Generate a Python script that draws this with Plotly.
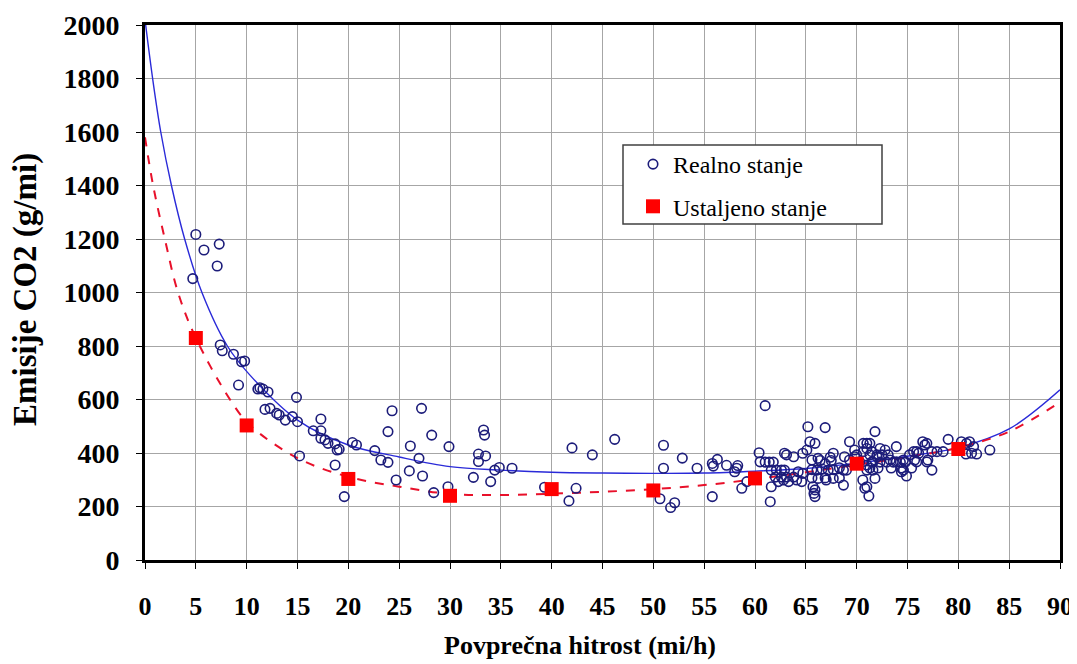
import plotly.graph_objects as go

# ---- Data ----
# Realno stanje (real driving, scatter of measurements)
real_x = [4.7, 5.0, 5.8, 7.3, 7.1, 7.4, 7.6, 8.7, 9.5, 9.8, 9.2,
          11.1, 11.3, 11.6, 12.1, 11.8, 12.3, 12.95, 13.2, 13.8, 14.5, 15.0, 14.9,
          15.2, 16.55, 17.3, 17.3, 17.3, 17.7, 18.0, 18.7, 18.9, 19.1, 18.7, 19.6, 20.4, 20.8,
          22.6, 23.2, 23.9, 23.9, 24.3, 24.7, 26.1, 26.0, 26.95, 27.3, 27.2, 28.2, 28.4, 29.8, 29.9,
          32.3, 32.8, 32.8, 33.5, 33.3, 33.4, 34.0, 34.4, 34.85, 36.1,
          39.3, 42.0, 42.4, 41.7, 44.0, 46.2,
          51.0, 51.0, 50.65, 52.1, 51.7, 52.85, 54.3,
          55.8, 55.9, 56.3, 55.8, 57.2, 58.2, 58.3, 58.0, 58.7, 59.2,
          60.4, 60.5, 61.0, 61.5, 61.0, 61.4, 61.8, 61.6, 62.1, 62.6, 62.9, 62.0, 62.6, 63.1, 63.8,
          61.6, 62.3, 62.9, 63.8, 63.3, 63.1, 64.25, 64.7, 64.6, 64.1, 62.8, 64.7, 65.1, 65.2, 66.9,
          65.4, 65.9, 65.6, 66.2, 66.4, 66.9, 67.4, 67.5,
          65.6, 66.1, 66.6, 67.2, 67.7, 68.3, 68.7,
          65.6, 66.2, 66.9, 67.7, 68.3, 67.0,
          65.7, 65.9, 65.8, 65.9, 68.7,
          69.3, 69.8, 71.0, 71.8, 71.5, 72.0,
          69.8, 70.3, 71.0, 71.5, 69.0, 71.0, 71.6,
          70.6, 71.0, 71.2, 70.8, 71.8,
          67.7, 68.8, 69.3, 70.0, 70.65, 70.65, 71.3, 71.0,
          72.3, 72.8, 71.3, 72.0, 72.5, 73.1,
          71.6, 72.3, 72.95, 73.6, 74.3, 74.8,
          71.3, 72.1, 73.4, 74.4, 75.4,
          74.4, 74.9, 73.9, 73.3, 73.9, 74.6, 75.2, 75.9, 74.6, 75.9, 76.9,
          75.6, 76.1, 76.5, 76.7, 77.4, 75.7, 77.0, 77.4, 76.9, 77.9, 78.5, 79.0,
          80.3, 80.8, 81.1, 81.5, 81.3, 80.75, 81.8, 83.1]
real_y = [1052, 1217, 1159, 1181, 1099, 804, 782, 769, 741, 744, 654,
          639, 644, 639, 628, 563, 567, 548, 542, 523, 536, 517, 608,
          389, 483, 527, 483, 455, 449, 436, 434, 411, 414, 355, 237, 439, 430,
          409, 374, 365, 480, 558, 299, 426, 333, 380, 314, 567, 467, 252, 274, 424,
          309, 396, 368, 389, 486, 467, 293, 336, 346, 343,
          272, 419, 268, 221, 393, 451,
          429, 343, 229, 214, 196, 381, 343,
          361, 351, 376, 237, 354, 343, 353, 330, 268, 293,
          401, 367, 577, 218, 366, 366, 366, 336, 336, 336, 336, 310, 310, 310, 310,
          274, 293, 399, 386, 293, 393, 330, 324, 293, 299, 299, 399, 411, 498, 495,
          442, 436, 374, 380, 372, 360, 384, 372,
          338, 336, 340, 336, 338, 345, 336,
          307, 305, 307, 305, 307, 299,
          274, 262, 249, 237, 280,
          442, 411, 436, 480, 405, 386,
          386, 367, 355, 367, 336, 336, 336,
          299, 274, 239, 268, 305,
          399, 386, 374, 393, 405, 436, 436, 417,
          417, 411, 393, 393, 393, 393,
          366, 366, 366, 366, 366, 366,
          344, 344, 344, 344, 344,
          330, 314, 424, 374, 367, 374, 393, 405, 336, 367, 367,
          405, 399, 442, 430, 405, 374, 374, 336, 436, 405, 405, 451,
          442, 436, 442, 424, 399, 396, 396, 411]

# Ustaljeno stanje (steady state)
steady_x = [5, 10, 20, 30, 40, 50, 60, 70, 80]
steady_y = [830, 503, 303, 240, 265, 260, 305, 360, 415]

# Fitted curves
fit_real_x = [0, 0.75, 1.55, 2.6, 3.9, 5.6, 8.1, 10.3, 15, 20, 25, 30, 35, 40, 45, 50, 55, 60, 65, 70, 75, 80, 85, 90]
fit_real_y = [2020, 1800, 1600, 1400, 1200, 1000, 800, 692, 523, 430, 385, 349, 336, 328, 325, 324, 325, 332, 342, 362, 388, 420, 490, 636]
fit_steady_x = [0, 0.8, 1.95, 3.25, 5, 8.36, 10.3, 15, 20, 25, 30, 35, 40, 45, 50, 55, 60, 65, 70, 75, 80, 85, 90]
fit_steady_y = [1580, 1400, 1200, 1000, 830, 600, 505, 381, 311, 274, 247, 243, 248, 255, 265, 280, 302, 328, 356, 385, 420, 480, 590]

x_ticks = list(range(0, 91, 5))
y_ticks = list(range(0, 2001, 200))

SERIF = "Liberation Serif"

# The page body has an 8px margin; figure is sized to fill the rest of the window.
OFF = 8
FW, FH = 1077 - OFF, 664 - OFF
# plot area in page pixels (reference)
L, R, T, B = 145, 1060, 25, 560
PW, PH = R - L, B - T


def px(xp):
    return (xp - L) / PW


def py(yp):
    return (B - yp) / PH


fig = go.Figure()

fig.add_trace(go.Scatter(
    x=fit_real_x, y=fit_real_y, mode="lines", line=dict(color="#2a2ad8", width=1.4, shape="spline"),
    showlegend=False, hoverinfo="skip"))
fig.add_trace(go.Scatter(
    x=fit_steady_x, y=fit_steady_y, mode="lines",
    line=dict(color="#e8102a", width=2, dash="dash", shape="spline"),
    showlegend=False, hoverinfo="skip"))

fig.add_trace(go.Scatter(
    x=real_x, y=real_y, mode="markers", name="Realno stanje", legendgroup="a",
    marker=dict(symbol="circle-open", size=9.5, color="#1c1c7a", line=dict(width=1.6, color="#1c1c7a"))))
fig.add_trace(go.Scatter(
    x=steady_x, y=steady_y, mode="markers", name="Ustaljeno stanje", legendgroup="b",
    marker=dict(symbol="square", size=14, color="#ff0000")))

axis_common = dict(
    showgrid=True, gridcolor="#a6a6a6", gridwidth=1,
    showline=True, linecolor="black", linewidth=3, mirror=True,
    ticks="outside", ticklen=6, tickcolor="black", tickwidth=1,
    zeroline=False, automargin=False,
)

fig.update_xaxes(range=[0, 90], tickvals=x_ticks, ticklabelstandoff=15,
                 tickfont=dict(family=SERIF, size=26, color="black", weight="bold"), **axis_common)
fig.update_yaxes(range=[0, 2000], tickvals=y_ticks, ticklabelstandoff=11,
                 tickfont=dict(family=SERIF, size=28, color="black", weight="bold"), **axis_common)

fig.update_layout(
    width=FW, height=FH,
    font=dict(family=SERIF, color="black"),
    margin=dict(l=L - OFF, r=FW - (R - OFF), t=T - OFF, b=FH - (B - OFF), autoexpand=False),
    paper_bgcolor="white", plot_bgcolor="white",
    showlegend=True,
    legend=dict(
        x=px(633), y=py(142), xanchor="left", yanchor="top",
        bgcolor="rgba(0,0,0,0)", borderwidth=0,
        font=dict(family=SERIF, size=24, color="black"),
        tracegroupgap=8,
    ),
    shapes=[
        dict(type="rect", xref="paper", yref="paper",
             x0=px(623), x1=px(882), y0=py(224), y1=py(145),
             fillcolor="white", line=dict(color="#404040", width=1.5), layer="above"),
    ],
    annotations=[
        dict(text="<b>Povprečna hitrost (mi/h)</b>", xref="paper", yref="paper",
             x=px(580), y=py(645), xanchor="center", yanchor="middle",
             showarrow=False, font=dict(family=SERIF, size=26, color="black")),
        dict(text="<b>Emisije CO2 (g/mi)</b>", xref="paper", yref="paper",
             x=px(25), y=py(290), xanchor="center", yanchor="middle", textangle=-90,
             showarrow=False, font=dict(family=SERIF, size=33, color="black")),
    ],
)

fig.write_html("out.html")
